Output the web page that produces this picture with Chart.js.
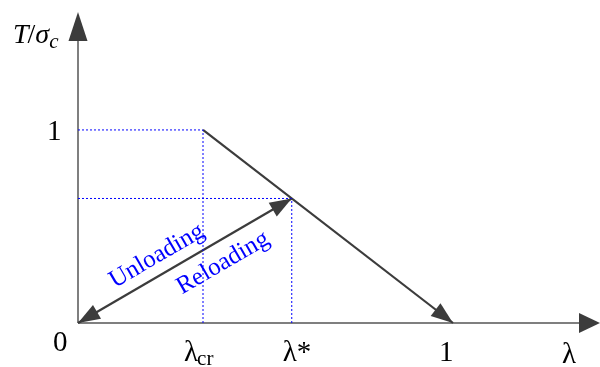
<!DOCTYPE html>
<html>
<head>
<meta charset="utf-8">
<script src="https://cdn.jsdelivr.net/npm/chart.js@4/dist/chart.umd.min.js"></script>
<style>
    body { margin: 0; background: #fff; }
    #wrap { width: 600px; height: 367px; }
</style>
</head>
<body>
<div id="wrap"><canvas id="tslChart" width="600" height="367"></canvas></div>
<script>
// bilinear traction-separation law, normalised
const lambdaCr = 1 / 3;
const lambdaStar = 0.57;
const tStar = (1 - lambdaStar) / (1 - lambdaCr);

const softeningX = [lambdaCr, 1];
const softeningY = [1, 0];
const unloadX = [0, lambdaStar];
const unloadY = [0, tStar];

const xTicks = [0, lambdaCr, lambdaStar, 1];
const xTickLabels = ['0', 'λcr', 'λ*', '1'];
const yTicks = [1];
const yTickLabels = ['1'];

const axisMax = { x: 1.392, y: 1.611 };

const SERIF = '"Liberation Serif", "DejaVu Serif", serif';
const INK = '#3c3c3c';
const BLUE = '#0000ff';

function pts(xs, ys) {
    return xs.map((x, i) => ({ x: x, y: ys[i] }));
}

function dotted(xs, ys) {
    return {
        data: pts(xs, ys),
        showLine: true,
        borderColor: BLUE,
        borderWidth: 1,
        borderDash: [2, 2],
        pointRadius: 0,
        clip: false
    };
}

function arrowHead(ctx, fromX, fromY, toX, toY, len, half) {
    const a = Math.atan2(toY - fromY, toX - fromX);
    ctx.save();
    ctx.translate(toX, toY);
    ctx.rotate(a);
    ctx.beginPath();
    ctx.moveTo(0, 0);
    ctx.lineTo(-len, -half);
    ctx.lineTo(-len, half);
    ctx.closePath();
    ctx.fillStyle = INK;
    ctx.fill();
    ctx.restore();
}

// axes, arrowheads and all text
const diagramPlugin = {
    id: 'diagram',
    beforeDatasetsDraw(chart) {
        const ctx = chart.ctx;
        const xs = chart.scales.x, ys = chart.scales.y;
        const x0 = xs.getPixelForValue(0), y0 = ys.getPixelForValue(0);
        const xEnd = xs.getPixelForValue(axisMax.x), yEnd = ys.getPixelForValue(axisMax.y);
        ctx.save();
        ctx.strokeStyle = '#555';
        ctx.lineWidth = 1.5;
        ctx.beginPath();
        ctx.moveTo(x0, y0);
        ctx.lineTo(xEnd - 10, y0);
        ctx.moveTo(x0, y0);
        ctx.lineTo(x0, yEnd + 10);
        ctx.stroke();
        ctx.restore();
        arrowHead(ctx, x0, y0, xEnd, y0, 21, 10);
        arrowHead(ctx, x0, y0, x0, yEnd, 29, 9.5);
    },
    afterDatasetsDraw(chart) {
        const ctx = chart.ctx;
        const xs = chart.scales.x, ys = chart.scales.y;
        const px = v => xs.getPixelForValue(v);
        const py = v => ys.getPixelForValue(v);

        // arrowheads on the load paths
        arrowHead(ctx, px(softeningX[0]), py(softeningY[0]), px(softeningX[1]), py(softeningY[1]), 22, 8);
        arrowHead(ctx, px(unloadX[1]), py(unloadY[1]), px(unloadX[0]), py(unloadY[0]), 22, 8);
        arrowHead(ctx, px(unloadX[0]), py(unloadY[0]), px(unloadX[1]), py(unloadY[1]), 22, 8);

        ctx.save();
        ctx.fillStyle = '#000';
        ctx.textBaseline = 'alphabetic';
        ctx.textAlign = 'left';

        // x tick labels
        const base = py(0) + 38;
        const tickFont = '29px ' + SERIF;
        xTicks.forEach((v, i) => {
            const label = xTickLabels[i];
            const x = px(v);
            ctx.font = tickFont;
            if (i === 0) {
                ctx.fillText(label, x - 25, py(0) + 28);
            } else if (label === 'λcr') {
                ctx.fillText('λ', x - 19, base);
                const lw = ctx.measureText('λ').width;
                ctx.font = '21px ' + SERIF;
                ctx.fillText('cr', x - 19 + lw - 1, base + 4);
            } else if (label === 'λ*') {
                ctx.fillText('λ*', x - 9, base);
            } else {
                ctx.fillText(label, x - 14, base);
            }
        });
        ctx.font = tickFont;
        ctx.fillText('λ', 562, base + 2);

        // y tick labels
        yTicks.forEach((v, i) => {
            ctx.font = tickFont;
            ctx.fillText(yTickLabels[i], px(0) - 31, py(v) + 10);
        });

        // y axis title T/σc
        ctx.font = 'italic 28px ' + SERIF;
        ctx.fillText('T', 13, 43);
        let w = ctx.measureText('T').width;
        ctx.font = '28px ' + SERIF;
        ctx.fillText('/', 13 + w - 1, 43);
        w += ctx.measureText('/').width - 1;
        ctx.font = 'italic 28px ' + SERIF;
        ctx.fillText('σ', 13 + w, 43);
        w += ctx.measureText('σ').width;
        ctx.font = 'italic 21px ' + SERIF;
        ctx.fillText('c', 13 + w, 48);

        // path labels along the unloading line
        const ang = Math.atan2(py(unloadY[1]) - py(0), px(unloadX[1]) - px(0));
        ctx.fillStyle = BLUE;
        ctx.font = '25px ' + SERIF;
        ctx.textAlign = 'center';
        ctx.textBaseline = 'middle';
        ctx.save();
        ctx.translate(157, 256);
        ctx.rotate(ang);
        ctx.fillText('Unloading', 0, 0);
        ctx.restore();
        ctx.save();
        ctx.translate(223, 263);
        ctx.rotate(ang);
        ctx.fillText('Reloading', 0, 0);
        ctx.restore();
        ctx.restore();
    }
};

new Chart(document.getElementById('tslChart'), {
    type: 'scatter',
    data: {
        datasets: [
            dotted([0, lambdaCr], [1, 1]),
            dotted([lambdaCr, lambdaCr], [0, 1]),
            dotted([0, lambdaStar], [tStar, tStar]),
            dotted([lambdaStar, lambdaStar], [0, tStar]),
            {
                data: pts(softeningX, softeningY),
                showLine: true,
                borderColor: INK,
                borderWidth: 2.2,
                pointRadius: 0,
                clip: false
            },
            {
                data: pts(unloadX, unloadY),
                showLine: true,
                borderColor: INK,
                borderWidth: 2.2,
                pointRadius: 0,
                clip: false
            }
        ]
    },
    options: {
        responsive: false,
        animation: false,
        layout: { padding: { left: 78, right: 0, top: 12, bottom: 44 } },
        plugins: {
            legend: { display: false },
            tooltip: { enabled: false }
        },
        scales: {
            x: { type: 'linear', min: 0, max: axisMax.x, display: false },
            y: { type: 'linear', min: 0, max: axisMax.y, display: false }
        }
    },
    plugins: [diagramPlugin]
});
</script>
</body>
</html>
